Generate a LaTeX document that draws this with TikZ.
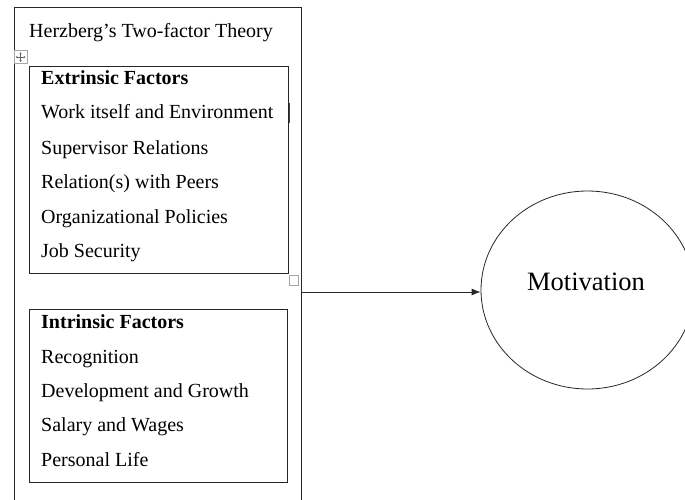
\documentclass[tikz,border=0pt]{standalone}
\usepackage{fontspec}
\setmainfont{Liberation Serif}
\usetikzlibrary{arrows.meta,shapes.geometric}
\begin{document}
\begin{tikzpicture}[x=1pt,y=-1pt,
  item/.style={anchor=base west, inner sep=0pt, font=\fontsize{20}{24}\selectfont},
  head/.style={item, font=\fontsize{20}{24}\selectfont\bfseries},
  frame/.style={draw=black!85, line width=0.9pt, inner sep=0pt, anchor=north west},
  handle/.style={draw=black!35, line width=0.7pt}]
\useasboundingbox (0,0) rectangle (685,500);
\clip (0,0) rectangle (685,500);
% outer frame
\node[frame, minimum width=287pt, minimum height=520pt] (outer) at (14,7) {};
\node[item] (title) at (29,38) {Herzberg’s Two-factor Theory};
% move handle
\node[handle, fill=white, minimum width=13.5pt, minimum height=13.5pt, inner sep=0pt, anchor=north west] (mv) at (13.5,50) {};
\draw[black!60, line width=0.55pt, {Stealth[length=1.8pt,width=2.4pt]}-{Stealth[length=1.8pt,width=2.4pt]}] ([xshift=-4.8pt]mv.center) -- ([xshift=4.8pt]mv.center);
\draw[black!60, line width=0.55pt, {Stealth[length=1.8pt,width=2.4pt]}-{Stealth[length=1.8pt,width=2.4pt]}] ([yshift=-4.8pt]mv.center) -- ([yshift=4.8pt]mv.center);
% extrinsic box
\node[frame, minimum width=259pt, minimum height=207pt] (ext) at (29,66) {};
\node[head] (e0) at (41,85) {Extrinsic Factors};
\node[item] (e1) at (41,119) {Work itself and Environment};
\node[item] (e2) at (41,154) {Supervisor Relations};
\node[item] (e3) at (41,188) {Relation(s) with Peers};
\node[item] (e4) at (41,223) {Organizational Policies};
\node[item] (e5) at (41,257) {Job Security};
\draw[black!75, line width=1.4pt] (289.5,103) -- (289.5,123);
\node[handle, minimum size=9.5pt, inner sep=0pt, anchor=north west] (rs) at (288.5,275) {};
% intrinsic box
\node[frame, minimum width=258pt, minimum height=173pt] (int) at (29,309) {};
\node[head] (i0) at (41,328) {Intrinsic Factors};
\node[item] (i1) at (41,363) {Recognition};
\node[item] (i2) at (41,397) {Development and Growth};
\node[item] (i3) at (41,431) {Salary and Wages};
\node[item] (i4) at (41,466) {Personal Life};
% motivation
\node[draw=black!85, line width=0.8pt, ellipse, minimum width=213pt, minimum height=198pt, inner sep=0pt] (mot) at (587.5,290) {};
\node[anchor=base, inner sep=0pt, font=\fontsize{26.5}{30}\selectfont] (motl) at (586,290) {Motivation};
% arrow
\coordinate (a) at (301,292);
\draw[black!85, line width=0.8pt, -{Latex[length=9pt,width=7pt]}] (a) -- (a -| mot.west);
\end{tikzpicture}
\end{document}
